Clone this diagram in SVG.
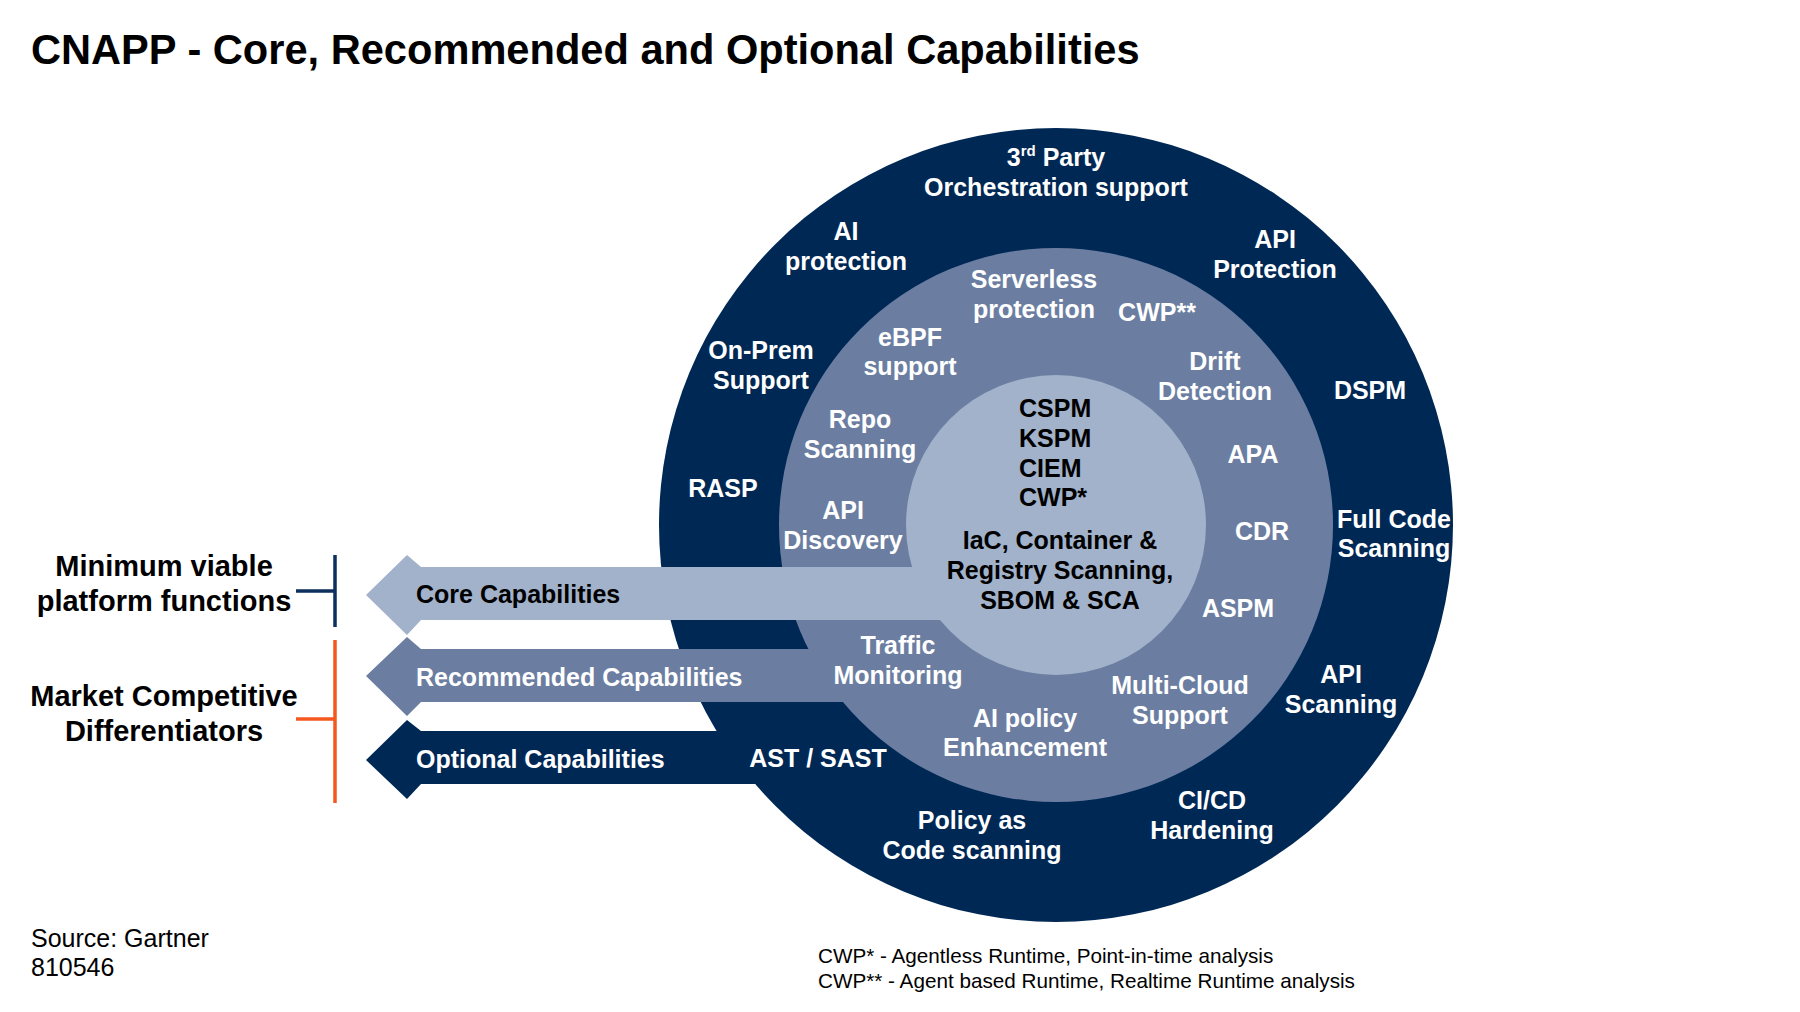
<svg xmlns="http://www.w3.org/2000/svg" width="1800" height="1012" viewBox="0 0 1800 1012">
<style>
text{font-family:"Liberation Sans",Arial,sans-serif;font-weight:bold;font-size:25px}
.w{fill:#ffffff;text-anchor:middle}
.k{fill:#000000;text-anchor:middle}
.ks{fill:#000000}
.title{font-size:41.6px;fill:#000}
.side{font-size:29px;fill:#000;text-anchor:middle}
.note{font-weight:normal;fill:#000}
.src{font-size:25px}
.fn{font-size:20.7px}
.sup{font-size:15px}
.outer{fill:#002855}
.middle{fill:#6b7ea1}
.inner{fill:#a1b2ca}
.br-navy{stroke:#0d2f5e;stroke-width:3.5;fill:none}
.br-orange{stroke:#f5581f;stroke-width:3.5;fill:none}
</style>
<rect width="1800" height="1012" fill="#ffffff"/>
<text id="title" class="title" x="31" y="64">CNAPP - Core, Recommended and Optional Capabilities</text>

<g id="ring-outer"><circle class="outer" cx="1056" cy="525" r="397"/></g>
<g id="arrow-optional"><polygon class="outer" points="366,760 407,720 421,731 900,731 900,784 421,784 407,799"/></g>
<g id="ring-middle"><circle class="middle" cx="1056" cy="525" r="277"/></g>
<g id="arrow-recommended"><polygon class="middle" points="366,676 407,637 421,649 1000,649 1000,702 421,702 407,716"/></g>
<g id="arrow-core"><polygon class="inner" points="366,595 407,555 421,567 1000,567 1000,620 421,620 407,635"/></g>
<g id="ring-inner"><circle class="inner" cx="1056" cy="525" r="150"/></g>

<g id="connectors">
<path class="br-navy" d="M335,555 V627 M296,591 H335"/>
<path class="br-orange" d="M335,640 V803 M296,719 H335"/>
</g>

<g id="label-minimum"><text class="side" x="164" y="576">Minimum viable</text><text class="side" x="164" y="611">platform functions</text></g>
<g id="label-market"><text class="side" x="164" y="706">Market Competitive</text><text class="side" x="164" y="741">Differentiators</text></g>

<g id="label-core"><text class="ks" x="416" y="603">Core Capabilities</text></g>
<g id="label-recommended"><text fill="#fff" x="416" y="686">Recommended Capabilities</text></g>
<g id="label-optional"><text fill="#fff" x="416" y="768">Optional Capabilities</text></g>

<g id="n-3rdparty"><text class="w" x="1056" y="166">3<tspan class="sup" dy="-10">rd</tspan><tspan dy="10"> Party</tspan></text><text class="w" x="1056" y="196">Orchestration support</text></g>
<g id="n-aiprotection"><text class="w" x="846" y="240">AI</text><text class="w" x="846" y="270">protection</text></g>
<g id="n-apiprotection"><text class="w" x="1275" y="248">API</text><text class="w" x="1275" y="278">Protection</text></g>
<g id="n-onprem"><text class="w" x="761" y="359">On-Prem</text><text class="w" x="761" y="389">Support</text></g>
<g id="n-dspm"><text class="w" x="1370" y="399">DSPM</text></g>
<g id="n-rasp"><text class="w" x="723" y="497">RASP</text></g>
<g id="n-fullcode"><text class="w" x="1394" y="528">Full Code</text><text class="w" x="1394" y="557">Scanning</text></g>
<g id="n-apiscanning"><text class="w" x="1341" y="683">API</text><text class="w" x="1341" y="713">Scanning</text></g>
<g id="n-ast"><text class="w" x="818" y="767">AST / SAST</text></g>
<g id="n-cicd"><text class="w" x="1212" y="809">CI/CD</text><text class="w" x="1212" y="839">Hardening</text></g>
<g id="n-policy"><text class="w" x="972" y="829">Policy as</text><text class="w" x="972" y="859">Code scanning</text></g>

<g id="n-serverless"><text class="w" x="1034" y="288">Serverless</text><text class="w" x="1034" y="318">protection</text></g>
<g id="n-cwp2"><text class="w" x="1157" y="321">CWP**</text></g>
<g id="n-ebpf"><text class="w" x="910" y="346">eBPF</text><text class="w" x="910" y="375">support</text></g>
<g id="n-drift"><text class="w" x="1215" y="370">Drift</text><text class="w" x="1215" y="400">Detection</text></g>
<g id="n-repo"><text class="w" x="860" y="428">Repo</text><text class="w" x="860" y="458">Scanning</text></g>
<g id="n-apa"><text class="w" x="1253" y="463">APA</text></g>
<g id="n-apidiscovery"><text class="w" x="843" y="519">API</text><text class="w" x="843" y="549">Discovery</text></g>
<g id="n-cdr"><text class="w" x="1262" y="540">CDR</text></g>
<g id="n-aspm"><text class="w" x="1238" y="617">ASPM</text></g>
<g id="n-traffic"><text class="w" x="898" y="654">Traffic</text><text class="w" x="898" y="684">Monitoring</text></g>
<g id="n-multicloud"><text class="w" x="1180" y="694">Multi-Cloud</text><text class="w" x="1180" y="724">Support</text></g>
<g id="n-aipolicy"><text class="w" x="1025" y="727">AI policy</text><text class="w" x="1025" y="756">Enhancement</text></g>

<g id="n-core-list"><text class="ks" x="1019" y="417">CSPM</text><text class="ks" x="1019" y="447">KSPM</text><text class="ks" x="1019" y="477">CIEM</text><text class="ks" x="1019" y="506">CWP*</text></g>
<g id="n-core-scan"><text class="k" x="1060" y="549">IaC, Container &amp;</text><text class="k" x="1060" y="579">Registry Scanning,</text><text class="k" x="1060" y="609">SBOM &amp; SCA</text></g>

<g id="source"><text class="note src" x="31" y="947">Source: Gartner</text><text class="note src" x="31" y="976">810546</text></g>
<g id="footnotes"><text class="note fn" x="818" y="963">CWP* - Agentless Runtime, Point-in-time analysis</text><text class="note fn" x="818" y="988">CWP** - Agent based Runtime, Realtime Runtime analysis</text></g>
</svg>
